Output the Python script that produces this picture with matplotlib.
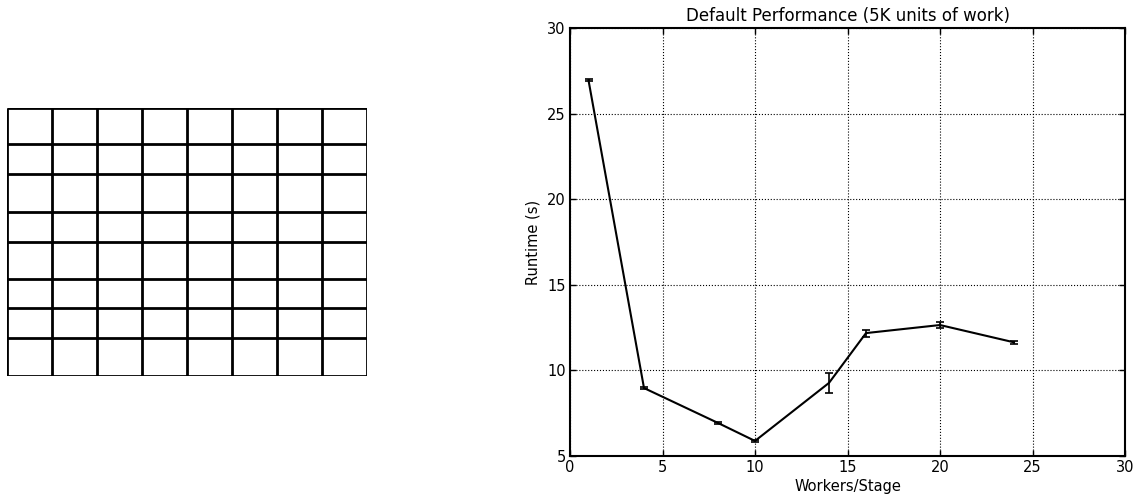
import matplotlib
matplotlib.use("Agg")
import matplotlib.pyplot as plt
import numpy as np

# Data
workers = [1, 4, 8, 10, 14, 16, 20, 24]
runtime = [26.95, 8.97, 6.93, 5.88, 9.27, 12.18, 12.65, 11.64]
runtime_err = [0.05, 0.08, 0.06, 0.08, 0.6, 0.2, 0.15, 0.1]
xticks = [0, 5, 10, 15, 20, 25, 30]
yticks = [5, 10, 15, 20, 25, 30]
title = "Default Performance (5K units of work)"
xlabel = "Workers/Stage"
ylabel = "Runtime (s)"

# Left grid image: 8 columns, 8 rows with slightly uneven row heights
n_cols = 8
row_heights = [36, 30, 38, 30, 37, 29, 30, 38]

plt.rcParams['font.family'] = ['DejaVu Sans']
W, H = 1143, 495
fig = plt.figure(figsize=(W / 100, H / 100), dpi=100)

# ---- Left grid ----
axg = fig.add_axes([7 / W, (H - 376) / H, (367 - 7) / W, (376 - 108) / H])
total_h = sum(row_heights)
row_edges = np.concatenate([[0], np.cumsum(row_heights)])
axg.set_xlim(0, n_cols)
axg.set_ylim(total_h, 0)
axg.hlines(row_edges, 0, n_cols, colors='black', linewidth=2.0)
axg.vlines(np.arange(n_cols + 1), 0, total_h, colors='black', linewidth=2.0)
axg.axis('off')

# ---- Right chart ----
ax = fig.add_axes([570 / W, (H - 456) / H, (1125 - 570) / W, (456 - 28) / H])
ax.errorbar(workers, runtime, yerr=runtime_err, color='black', linewidth=1.5,
            elinewidth=1.2, capsize=3, capthick=1.2)
ax.set_xlim(0, 30)
ax.set_ylim(5, 30)
ax.set_xticks(xticks)
ax.set_yticks(yticks)
ax.grid(True, linestyle=':', color='black', linewidth=0.8)
ax.tick_params(direction='in', length=4, width=1, labelsize=10.5,
               top=True, right=True, pad=3)
for s in ax.spines.values():
    s.set_linewidth(1.5)
ax.set_title(title, fontsize=12, pad=5)
ax.set_xlabel(xlabel, fontsize=10.5, labelpad=3)
ax.set_ylabel(ylabel, fontsize=10.5, labelpad=5)

fig.savefig("out.png", dpi=100)
